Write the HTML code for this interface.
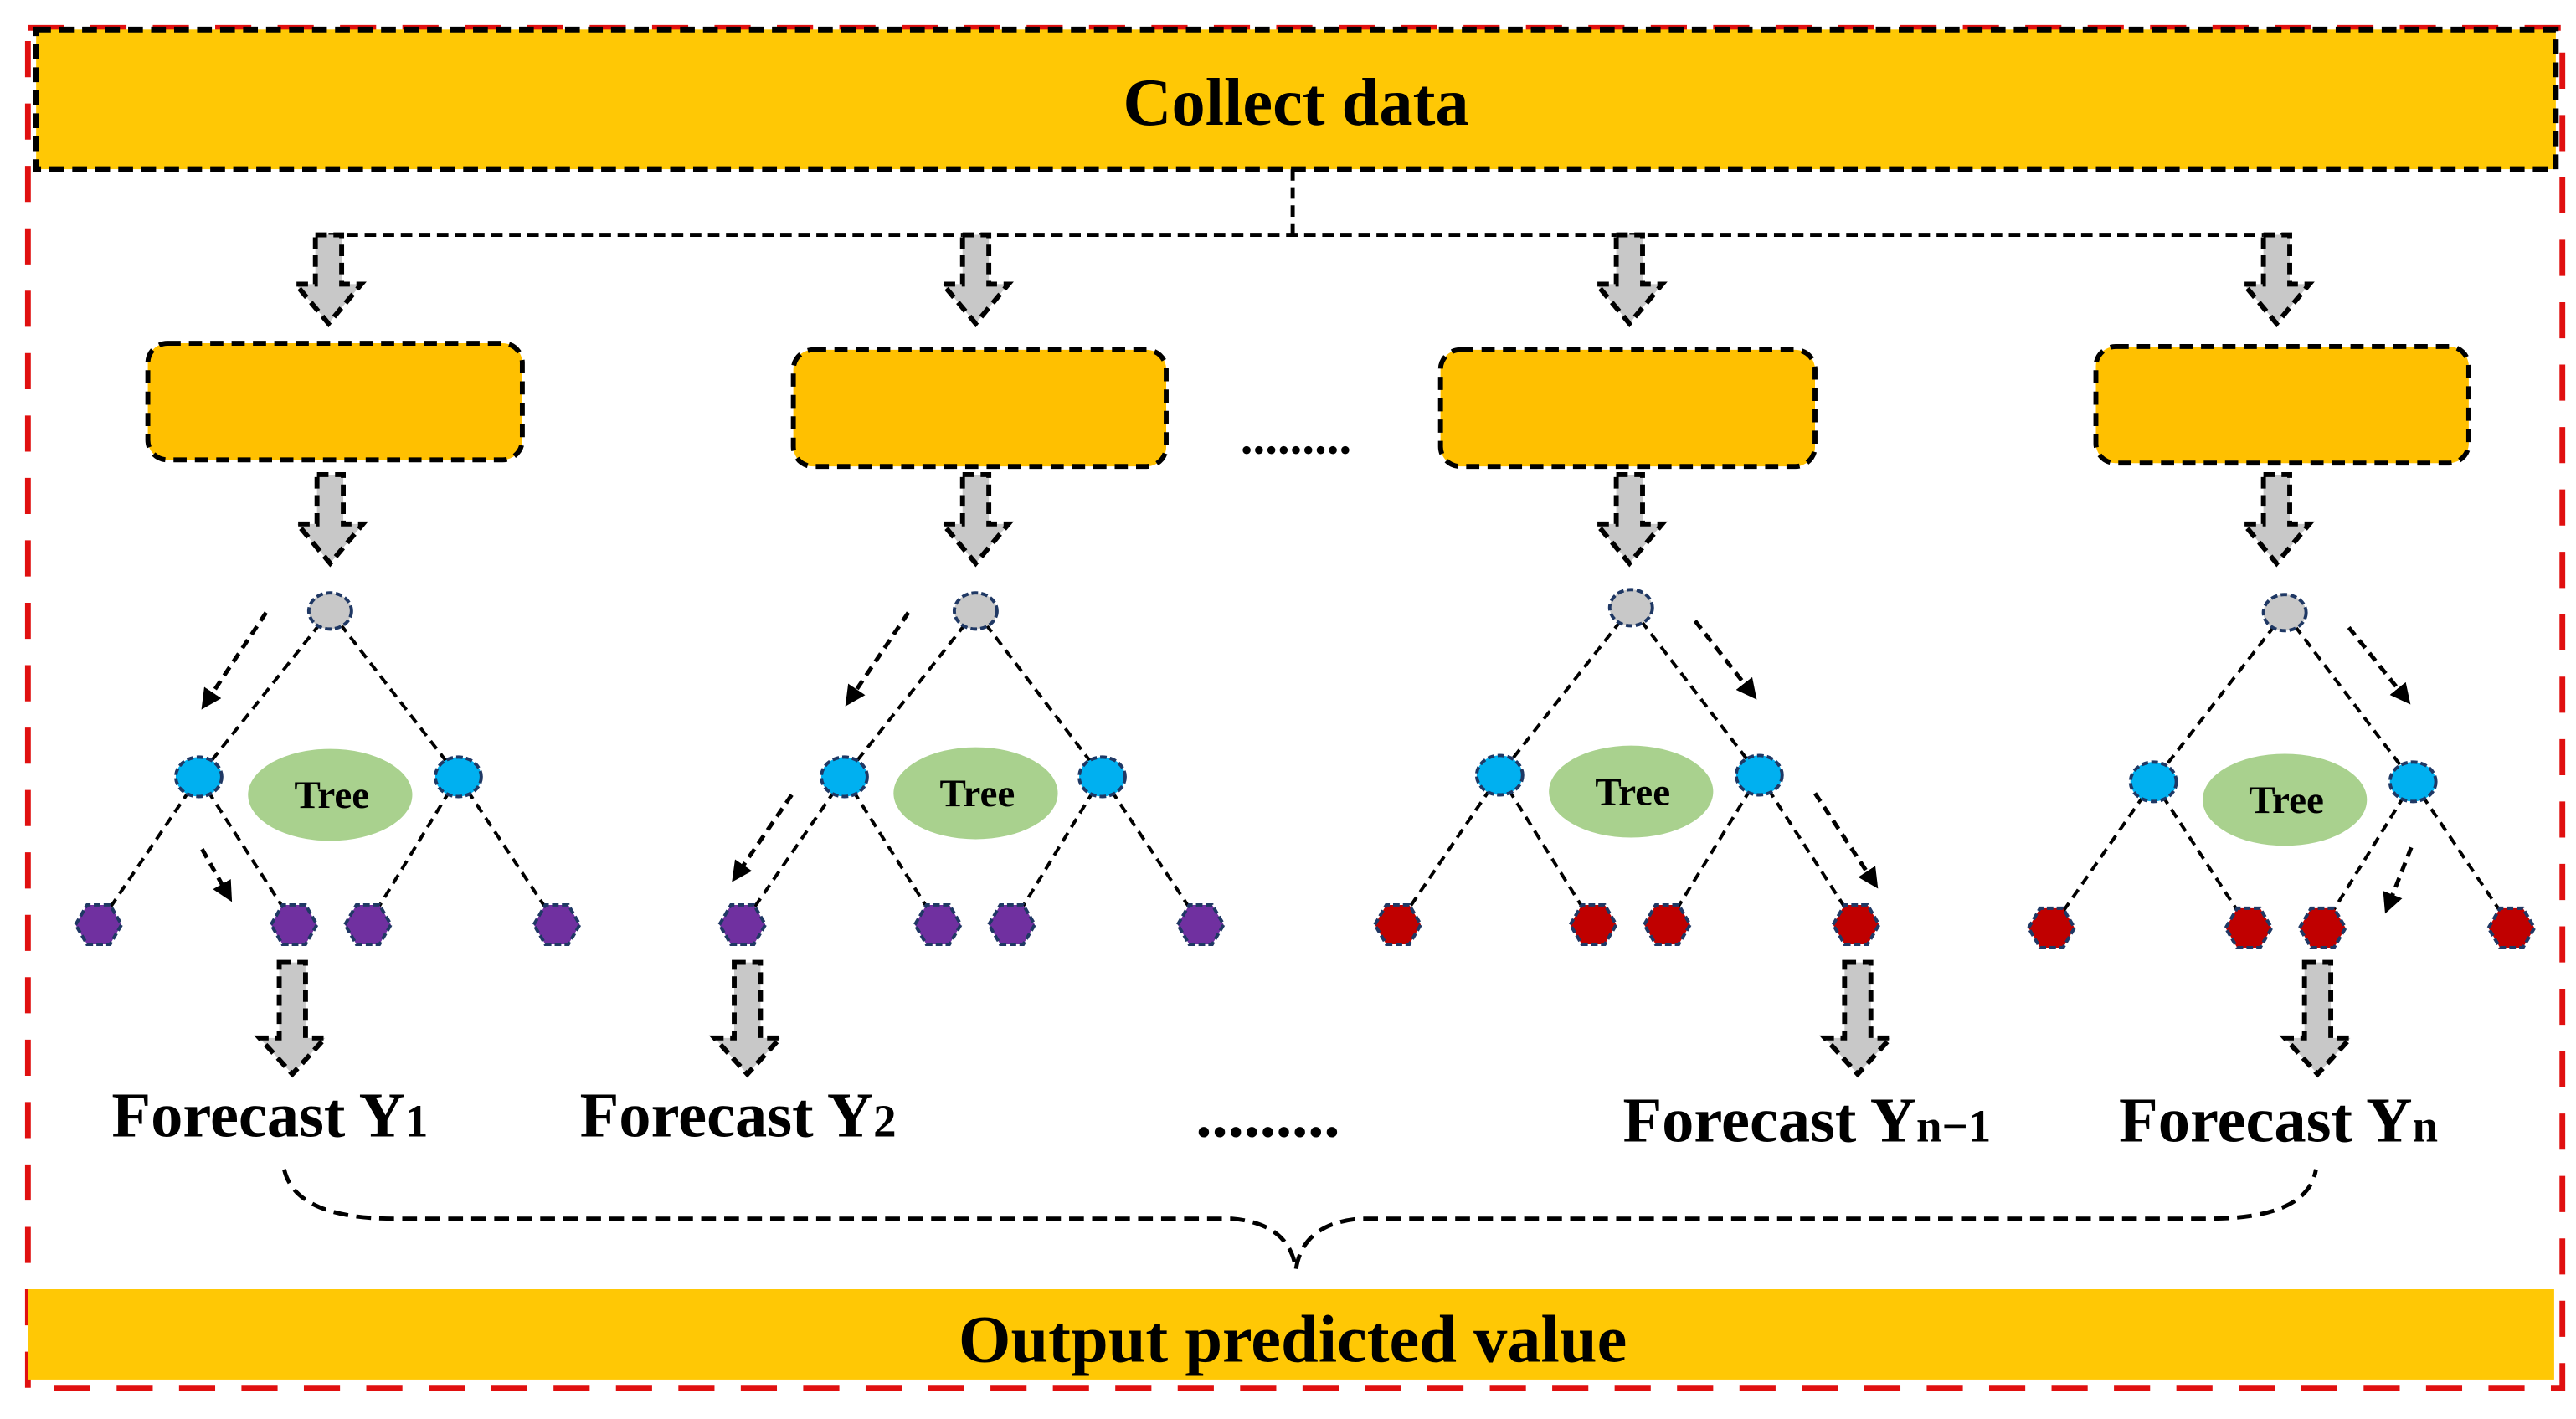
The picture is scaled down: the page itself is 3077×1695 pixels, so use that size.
<!DOCTYPE html>
<html><head><meta charset="utf-8"><style>html,body{margin:0;padding:0;background:#fff}svg{display:block}</style></head>
<body>
<svg width="3077" height="1695" viewBox="0 0 1568.3 864" preserveAspectRatio="none" xmlns="http://www.w3.org/2000/svg" font-family="Liberation Serif, serif" font-weight="bold">
<defs>
<marker id="ah" viewBox="0 0 10 10" refX="8" refY="5" markerWidth="5" markerHeight="5" orient="auto"><path d="M0,0 L10,5 L0,10 z" fill="#000"/></marker>
<g id="barr"><path d="M-8,0 L8,0 L8,30 L20,30 L0,54 L-20,30 L-8,30 Z" fill="#c8c8c8" stroke="#000" stroke-width="3" stroke-dasharray="7,4"/></g>
<g id="barr2"><path d="M-8,0 L8,0 L8,46 L20,46 L0,68 L-20,46 L-8,46 Z" fill="#c8c8c8" stroke="#000" stroke-width="3" stroke-dasharray="7,4"/></g>
</defs>
<rect x="17" y="17" width="1543" height="828" fill="none" stroke="#e01010" stroke-width="3.5" stroke-dasharray="22,16"/>
<rect x="22" y="18" width="1534" height="85" fill="#ffc805" stroke="#000" stroke-width="3.5" stroke-dasharray="9,5"/>
<text x="789" y="76" font-size="41" text-anchor="middle">Collect data</text>
<path d="M787,103 V143 M200,143 H1398" stroke="#000" stroke-width="2.5" stroke-dasharray="7,4" fill="none"/>
<use href="#barr" x="200" y="143"/><use href="#barr" x="594" y="143"/><use href="#barr" x="992" y="143"/><use href="#barr" x="1386" y="143"/>
<g fill="#ffc000" stroke="#000" stroke-width="3" stroke-dasharray="8,5">
<rect x="90" y="209" width="228" height="71" rx="12"/>
<rect x="483" y="213" width="227" height="71" rx="12"/>
<rect x="877" y="213" width="228" height="71" rx="12"/>
<rect x="1276" y="211" width="227" height="71" rx="12"/>
</g>
<text x="789" y="276" font-size="30" text-anchor="middle">.........</text>
<use href="#barr" x="201" y="289"/><use href="#barr" x="594" y="289"/><use href="#barr" x="992" y="289"/><use href="#barr" x="1386" y="289"/>
<!-- tree template via repeats -->
<g stroke="#000" stroke-width="2" stroke-dasharray="6,4" fill="none">
<path d="M201,372 L121,473 M201,372 L279,473 M121,473 L60,563 M121,473 L179,563 M279,473 L224,563 M279,473 L339,563"/>
<path d="M594,372 L514,473 M594,372 L671,473 M514,473 L452,563 M514,473 L571,563 M671,473 L616,563 M671,473 L731,563"/>
<path d="M993,370 L913,472 M993,370 L1071,472 M913,472 L851,563 M913,472 L970,563 M1071,472 L1015,563 M1071,472 L1130,563"/>
<path d="M1391,373 L1311,476 M1391,373 L1469,476 M1311,476 L1249,565 M1311,476 L1369,565 M1469,476 L1414,565 M1469,476 L1529,565"/>
</g>
<g stroke="#000" stroke-width="2.5" stroke-dasharray="6,4" fill="none" marker-end="url(#ah)">
<path d="M162,373 L124,430"/><path d="M123,517 L140,547"/>
<path d="M553,373 L516,428"/><path d="M482,484 L447,535"/>
<path d="M1032,378 L1068,424"/><path d="M1105,483 L1142,539"/>
<path d="M1430,382 L1466,427"/><path d="M1468,516 L1453,554"/>
</g>
<g fill="#c8c8c8" stroke="#1f3864" stroke-width="2" stroke-dasharray="4,2">
<ellipse cx="201" cy="372" rx="13" ry="11"/><ellipse cx="594" cy="372" rx="13" ry="11"/><ellipse cx="993" cy="370" rx="13" ry="11"/><ellipse cx="1391" cy="373" rx="13" ry="11"/>
</g>
<g fill="#00b0f0" stroke="#1f3864" stroke-width="2" stroke-dasharray="4,2">
<ellipse cx="121" cy="473" rx="14" ry="12"/><ellipse cx="279" cy="473" rx="14" ry="12"/>
<ellipse cx="514" cy="473" rx="14" ry="12"/><ellipse cx="671" cy="473" rx="14" ry="12"/>
<ellipse cx="913" cy="472" rx="14" ry="12"/><ellipse cx="1071" cy="472" rx="14" ry="12"/>
<ellipse cx="1311" cy="476" rx="14" ry="12"/><ellipse cx="1469" cy="476" rx="14" ry="12"/>
</g>
<g fill="#a9d18e">
<ellipse cx="201" cy="484" rx="50" ry="28"/><ellipse cx="594" cy="483" rx="50" ry="28"/><ellipse cx="993" cy="482" rx="50" ry="28"/><ellipse cx="1391" cy="487" rx="50" ry="28"/>
</g>
<g font-size="24" text-anchor="middle">
<text x="202" y="492">Tree</text><text x="595" y="491">Tree</text><text x="994" y="490">Tree</text><text x="1392" y="495">Tree</text>
</g>
<g stroke="#1f3864" stroke-width="2" stroke-dasharray="4,2">
<g fill="#7030a0">
<polygon points="46,563 53,551 67,551 74,563 67,575 53,575"/>
<polygon points="165,563 172,551 186,551 193,563 186,575 172,575"/>
<polygon points="210,563 217,551 231,551 238,563 231,575 217,575"/>
<polygon points="325,563 332,551 346,551 353,563 346,575 332,575"/>
<polygon points="438,563 445,551 459,551 466,563 459,575 445,575"/>
<polygon points="557,563 564,551 578,551 585,563 578,575 564,575"/>
<polygon points="602,563 609,551 623,551 630,563 623,575 609,575"/>
<polygon points="717,563 724,551 738,551 745,563 738,575 724,575"/>
</g>
<g fill="#c00000">
<polygon points="837,563 844,551 858,551 865,563 858,575 844,575"/>
<polygon points="956,563 963,551 977,551 984,563 977,575 963,575"/>
<polygon points="1001,563 1008,551 1022,551 1029,563 1022,575 1008,575"/>
<polygon points="1116,563 1123,551 1137,551 1144,563 1137,575 1123,575"/>
<polygon points="1235,565 1242,553 1256,553 1263,565 1256,577 1242,577"/>
<polygon points="1355,565 1362,553 1376,553 1383,565 1376,577 1362,577"/>
<polygon points="1400,565 1407,553 1421,553 1428,565 1421,577 1407,577"/>
<polygon points="1515,565 1522,553 1536,553 1543,565 1536,577 1522,577"/>
</g>
</g>
<use href="#barr2" x="178" y="586"/><use href="#barr2" x="455" y="586"/><use href="#barr2" x="1131" y="586"/><use href="#barr2" x="1411" y="586"/>
<g font-size="39">
<text x="68" y="692">Forecast Y<tspan font-size="28">1</tspan></text>
<text x="353" y="692">Forecast Y<tspan font-size="28">2</tspan></text>
<text x="728" y="692">.........</text>
<text x="988" y="695">Forecast Y<tspan font-size="28">n−1</tspan></text>
<text x="1290" y="695">Forecast Y<tspan font-size="28">n</tspan></text>
</g>
<path d="M173,712 Q180,742 240,742 L750,742 Q785,745 789,773 Q793,745 828,742 L1345,742 Q1405,742 1410,712" fill="none" stroke="#000" stroke-width="2.5" stroke-dasharray="9,5"/>
<rect x="17" y="785" width="1538" height="55" fill="#ffc805"/>
<text x="787" y="829" font-size="41" text-anchor="middle">Output predicted value</text>
</svg>
</body></html>
